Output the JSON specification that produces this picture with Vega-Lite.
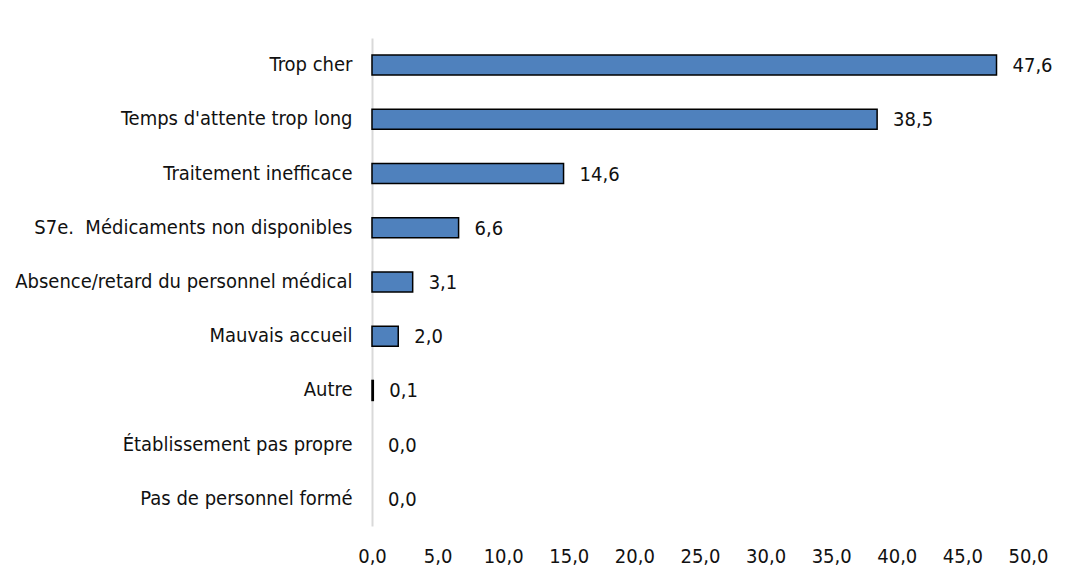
{
  "$schema": "https://vega.github.io/schema/vega-lite/v6.json",
  "width": 656,
  "height": 488,
  "autosize": {"type": "none"},
  "padding": {"left": 372, "top": 38, "right": 37, "bottom": 54},
  "background": "white",
  "config": {
    "view": {"stroke": null},
    "locale": {"number": {"decimal": ",", "thousands": " ", "grouping": [3], "currency": ["", " €"]}},
    "font": "DejaVu Sans Condensed"
  },
  "data": {
    "values": [
      {"motif": "Trop cher", "value": 47.6},
      {"motif": "Temps d'attente trop long", "value": 38.5},
      {"motif": "Traitement inefficace", "value": 14.6},
      {"motif": "S7e. \u00a0Médicaments non disponibles", "value": 6.6},
      {"motif": "Absence/retard du personnel médical", "value": 3.1},
      {"motif": "Mauvais accueil", "value": 2.0},
      {"motif": "Autre", "value": 0.1},
      {"motif": "Établissement pas propre", "value": 0.0},
      {"motif": "Pas de personnel formé", "value": 0.0}
    ]
  },
  "encoding": {
    "y": {
      "field": "motif",
      "type": "nominal",
      "sort": null,
      "scale": {"paddingInner": 0.6, "paddingOuter": 0.3},
      "axis": {
        "title": null,
        "ticks": false,
        "domain": true,
        "domainColor": "#d9d9d9",
        "domainWidth": 2,
        "labelFont": "DejaVu Sans Condensed",
        "labelFontSize": 20,
        "labelColor": "#111111",
        "labelPadding": 20,
        "labelLimit": 400
      }
    },
    "x": {
      "field": "value",
      "type": "quantitative",
      "scale": {"domain": [0, 50], "nice": false},
      "axis": {
        "title": null,
        "values": [0, 5, 10, 15, 20, 25, 30, 35, 40, 45, 50],
        "format": ".1f",
        "domain": false,
        "ticks": false,
        "grid": false,
        "labelFont": "DejaVu Sans Condensed",
        "labelFontSize": 20,
        "labelColor": "#111111",
        "labelPadding": 20,
        "labelFlush": false
      }
    }
  },
  "layer": [
    {
      "mark": {"type": "bar", "size": 20, "fill": "#4f81bd", "stroke": "#000000", "strokeWidth": 1.5},
      "encoding": {
        "strokeOpacity": {"condition": {"test": "datum.value > 0", "value": 1}, "value": 0}
      }
    },
    {
      "mark": {"type": "text", "align": "left", "baseline": "middle", "dx": 16, "dy": 1, "font": "DejaVu Sans Condensed", "fontSize": 20, "color": "#111111"},
      "encoding": {
        "text": {"field": "value", "type": "quantitative", "format": ".1f"}
      }
    }
  ]
}
